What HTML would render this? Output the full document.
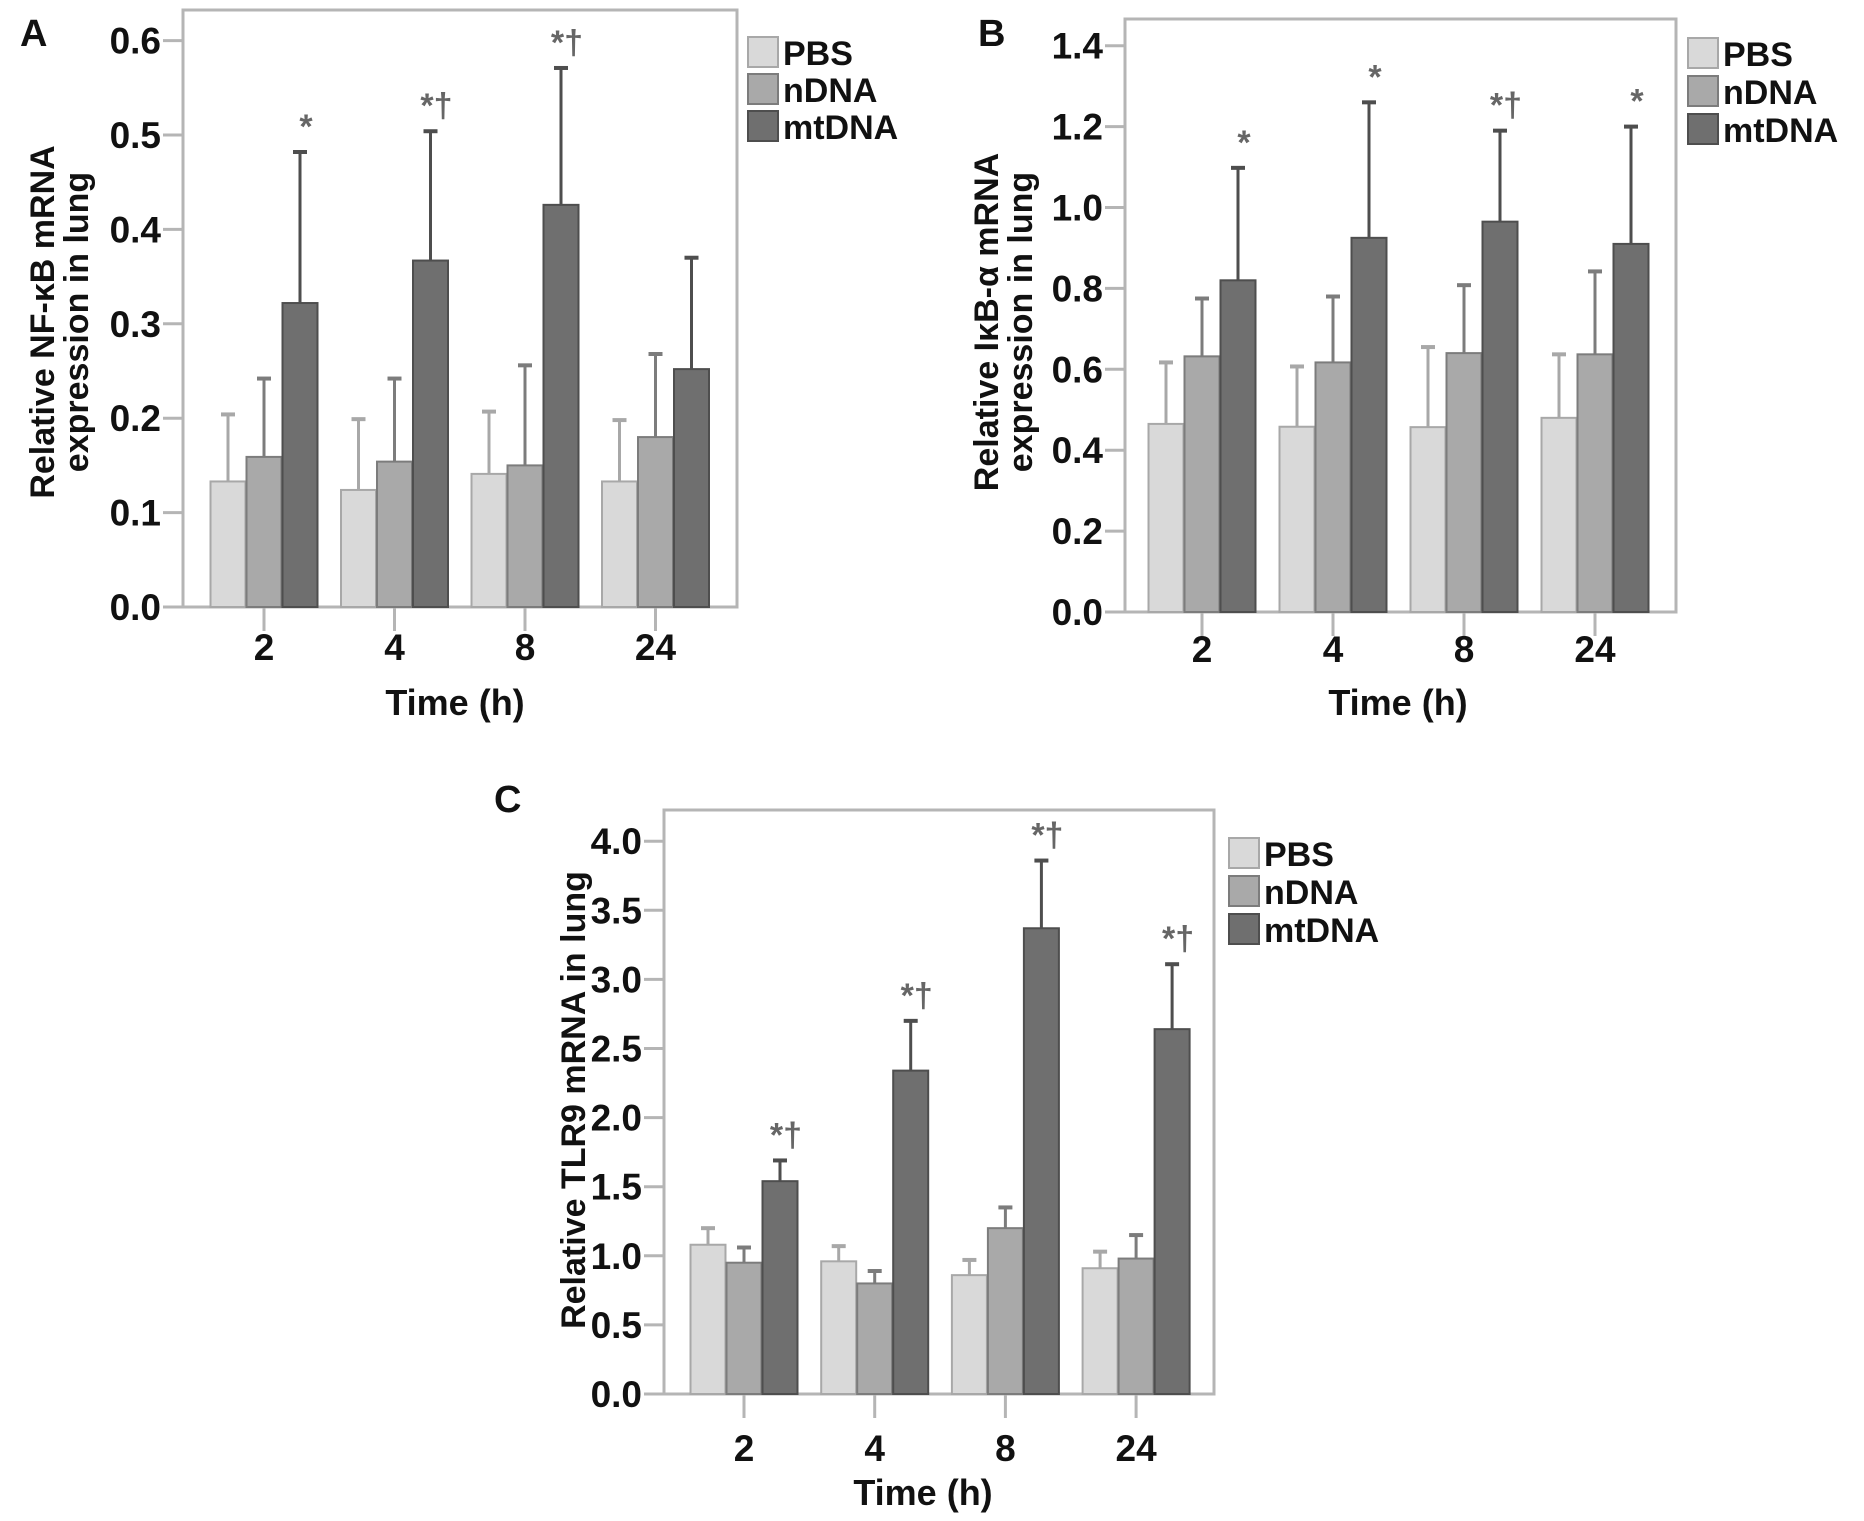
<!DOCTYPE html>
<html><head><meta charset="utf-8"><style>
html,body{margin:0;padding:0;background:#fff;}
svg{display:block;font-family:"Liberation Sans",Arial,sans-serif;font-weight:bold;}
</style></head><body>
<svg id="fig" width="1864" height="1521" viewBox="0 0 1864 1521" xmlns="http://www.w3.org/2000/svg"></svg>
<script>
const categories = ["2","4","8","24"];
const seriesNames = ["PBS","nDNA","mtDNA"];
// Panel A
const aPBS = [0.133,0.124,0.141,0.133];
const aPBSErr = [0.204,0.199,0.207,0.198];
const aNDNA = [0.159,0.154,0.150,0.180];
const aNDNAErr = [0.242,0.242,0.256,0.268];
const aMT = [0.322,0.367,0.426,0.252];
const aMTErr = [0.482,0.504,0.571,0.370];
const aMarks = ["*","*†","*†",""];
const aTicks = ["0.0","0.1","0.2","0.3","0.4","0.5","0.6"];
// Panel B
const bPBS = [0.465,0.458,0.457,0.480];
const bPBSErr = [0.617,0.607,0.655,0.637];
const bNDNA = [0.632,0.617,0.640,0.637];
const bNDNAErr = [0.775,0.780,0.808,0.842];
const bMT = [0.820,0.925,0.965,0.910];
const bMTErr = [1.098,1.260,1.190,1.200];
const bMarks = ["*","*","*†","*"];
const bTicks = ["0.0","0.2","0.4","0.6","0.8","1.0","1.2","1.4"];
// Panel C
const cPBS = [1.08,0.96,0.86,0.91];
const cPBSErr = [1.20,1.07,0.97,1.03];
const cNDNA = [0.95,0.80,1.20,0.98];
const cNDNAErr = [1.06,0.89,1.35,1.15];
const cMT = [1.54,2.34,3.37,2.64];
const cMTErr = [1.69,2.70,3.86,3.11];
const cMarks = ["*†","*†","*†","*†"];
const cTicks = ["0.0","0.5","1.0","1.5","2.0","2.5","3.0","3.5","4.0"];

const NS="http://www.w3.org/2000/svg";
const svg=document.getElementById('fig');
const fills=["#d9d9d9","#a9a9a9","#6f6f6f"];
const strokes=["#a8a8a8","#7c7c7c","#4e4e4e"];
function mk(tag,attrs,parent){const e=document.createElementNS(NS,tag);for(const k in attrs)e.setAttribute(k,attrs[k]);(parent||svg).appendChild(e);return e;}
function txt(s,attrs,parent){const e=mk('text',attrs,parent);e.textContent=s;return e;}

function panel(cfg){
  const g=mk('g',{});
  
  
  const yScale=v=>cfg.base-(v/cfg.tickStep)*cfg.tickPx;
  const xCenter=i=>cfg.g0+i*cfg.gStep;
  const fr=mk('rect',{x:cfg.left,y:cfg.top,width:cfg.right-cfg.left,height:cfg.base-cfg.top,fill:'none',stroke:'#b5b5b5','stroke-width':3},g);
  
  
  cfg.ticks.forEach((t,i)=>{
    const y=yScale(parseFloat(t));
    const l=mk('line',{x1:cfg.left-20,x2:cfg.left,y1:y,y2:y,stroke:'#b5b5b5','stroke-width':3},g);
    
    
    const tl=txt(t,{x:cfg.left-22,y:y+13,'text-anchor':'end','font-size':37,fill:'#111'},g);
    
    
  });
  const series=[[cfg.pbs,cfg.pbsE],[cfg.nd,cfg.ndE],[cfg.mt,cfg.mtE]];
  const bw=35;
  categories.forEach((c,i)=>{
    const cx=xCenter(i);
    const xl=mk('line',{x1:cx,x2:cx,y1:cfg.base,y2:cfg.base+24,stroke:'#b5b5b5','stroke-width':3},g);
    
    
    const lab=txt(c,{x:cx,y:cfg.labY,'text-anchor':'middle','font-size':37,fill:'#111'},g);
    
    
    series.forEach((s,j)=>{
      const x=cx+(j-1)*36-bw/2;
      const y=yScale(s[0][i]);
      const ey=yScale(s[1][i]);
      const ec=x+bw/2;
      const el=mk('line',{x1:ec,x2:ec,y1:ey,y2:y,stroke:strokes[j],'stroke-width':3},g);
      
      
      const cap=mk('line',{x1:ec-7,x2:ec+7,y1:ey,y2:ey,stroke:strokes[j],'stroke-width':4},g);
      
      
      const r=mk('rect',{x:x,y:y,width:bw,height:cfg.base-y,fill:fills[j],stroke:strokes[j],'stroke-width':2},g);
      
      
    });
    if(cfg.marks[i]){
      const m=txt(cfg.marks[i],{x:cx+36+6,y:yScale(cfg.mtE[i])-14,'text-anchor':'middle','font-size':34,fill:'#666'},g);
      
      
    }
  });
  seriesNames.forEach((n,j)=>{
    const y=cfg.legY+j*cfg.legStep;
    const sw=mk('rect',{x:cfg.legX,y:y,width:30,height:30,fill:fills[j],stroke:strokes[j],'stroke-width':2},g);
    
    
    const lt=txt(n,{x:cfg.legX+35,y:y+28,'font-size':34,fill:'#111'},g);
    
    
  });
  const tt=txt('Time (h)',{x:cfg.timeX,y:cfg.timeY,'text-anchor':'middle','font-size':36,fill:'#111'},g);
  
  
  cfg.yTitle.forEach((line,k)=>{
    const x=cfg.yTitleX[k];
    const yt=txt(line,{x:x,y:cfg.yTitleY,'text-anchor':'middle','font-size':34,fill:'#111',transform:`rotate(-90 ${x} ${cfg.yTitleY})`},g);
    
    
  });
  const pl=txt(cfg.letter,{x:cfg.letX,y:cfg.letY,'font-size':38,fill:'#111'},g);
  
  
}

panel({name:'panel-a-nfkb',left:183,right:737,top:10,base:607,tickStep:0.1,tickPx:94.4,ticks:aTicks,
  g0:264,gStep:130.5,pbs:aPBS,pbsE:aPBSErr,nd:aNDNA,ndE:aNDNAErr,mt:aMT,mtE:aMTErr,marks:aMarks,labY:660,
  legX:748,legY:37,legStep:37,timeX:455,timeY:715,yTitle:['Relative NF-κB mRNA','expression in lung'],
  yTitleX:[54,88],yTitleY:322,letter:'A',letX:20,letY:46});
panel({name:'panel-b-ikba',left:1125,right:1676,top:19,base:612,tickStep:0.2,tickPx:80.9,ticks:bTicks,
  g0:1202,gStep:131,pbs:bPBS,pbsE:bPBSErr,nd:bNDNA,ndE:bNDNAErr,mt:bMT,mtE:bMTErr,marks:bMarks,labY:662,
  legX:1688,legY:38,legStep:38,timeX:1398,timeY:715,yTitle:['Relative IκB-α mRNA','expression in lung'],
  yTitleX:[998,1032],yTitleY:322,letter:'B',letX:978,letY:46});
panel({name:'panel-c-tlr9',left:664,right:1214,top:810,base:1394,tickStep:0.5,tickPx:69.1,ticks:cTicks,
  g0:744,gStep:130.7,pbs:cPBS,pbsE:cPBSErr,nd:cNDNA,ndE:cNDNAErr,mt:cMT,mtE:cMTErr,marks:cMarks,labY:1461,
  legX:1229,legY:838,legStep:38,timeX:923,timeY:1505,yTitle:['Relative TLR9 mRNA in lung'],
  yTitleX:[585],yTitleY:1100,letter:'C',letX:494,letY:812});
</script>
</body></html>
